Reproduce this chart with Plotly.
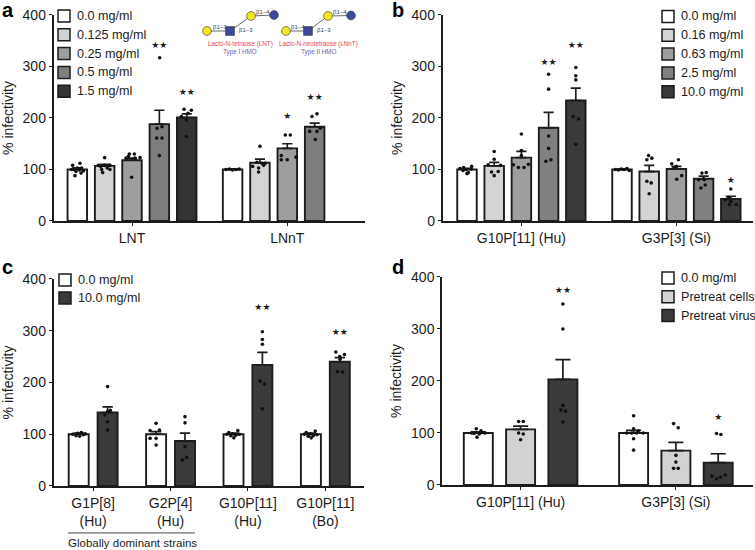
import plotly.graph_objects as go

FIG_W, FIG_H = 755, 570          # page-size of the figure
SX, SY = 1.0, 0.972              # picture pixels per figure pixel
FONT = "Liberation Sans"
INK = "#1c1c1c"

# ---------- panel a ----------
A_GROUPS = ["LNT", "LNnT"]
A_MEANS = [100, 107, 118, 188, 201, 100, 113, 141, 183]
A_TOPS = [103, 110, 122, 215, 208, 101, 120, 150, 190]
A_COLORS = ["#ffffff", "#d3d5d3", "#9c9ea0", "#7c7e7d", "#333333", "#ffffff", "#d3d5d3", "#9c9ea0", "#7c7e7d"]
A_PTS = [
    [112, 108, 103, 103, 100, 99, 96, 93, 88, 100, 97],
    [123, 108, 108, 108, 100, 103, 100, 106, 94],
    [130, 125, 122, 122, 85, 123, 130],
    [317, 183, 180, 161, 161, 127],
    [217, 215, 203, 209, 196, 164],
    [100, 101, 99, 100, 101],
    [145, 114, 112, 106, 103, 108, 95, 112],
    [167, 167, 127, 124, 119, 119],
    [208, 203, 180, 174, 174, 158],
]
A_JIT = [
    [8, -14, 0, 13, -10, 6, -4, 11, -7, -17, 18],
    [0, -19, 16, 0, -9, 8, 16, -12, -6],
    [7, -11, -18, 9, -1, 24, -8],
    [1, 8, -7, -8, 8, 0],
    [-8, 14, -16, 4, -1, -1],
    [-20, -10, 0, 10, 20],
    [0, -9, 16, -22, -4, 11, -4, 6],
    [-6, 9, -18, 26, 0, -18],
    [7, -8, 17, -15, 7, 2],
]
A_STAR_BARS = [3, 4, 7, 8]
A_STAR_Y = [340, 249, 203, 240]
A_STAR_TXT = ["★★", "★★", "★", "★★"]
A_LEGEND = ["0.0 mg/ml", "0.125 mg/ml", "0.25 mg/ml", "0.5 mg/ml", "1.5 mg/ml"]
A_LEG_COL = ["#ffffff", "#d3d5d3", "#9c9ea0", "#7c7e7d", "#333333"]

# ---------- panel b ----------
B_GROUPS = ["G10P[11] (Hu)", "G3P[3] (Si)"]
B_MEANS = [100, 107, 123, 181, 234, 100, 96, 101, 82, 43]
B_TOPS = [102, 114, 135, 211, 258, 101, 108, 106, 87, 48]
B_COLORS = ["#ffffff", "#d4d4d4", "#9e9e9e", "#808080", "#3a3a3a"] * 2
B_PTS = [
    [102, 98, 100, 94, 101, 92, 106, 104],
    [135, 120, 109, 108, 95, 96, 88],
    [169, 137, 109, 104, 104, 110, 127],
    [285, 256, 165, 141, 119, 116],
    [298, 282, 274, 203, 198, 149],
    [100, 99, 101, 100, 102, 98],
    [127, 122, 119, 77, 74, 53],
    [111, 119, 106, 88, 81, 104],
    [93, 94, 80, 70, 64, 82, 80],
    [62, 46, 41, 38, 32, 32],
]
B_JIT = [
    [-21, -12, -3, 4, 13, 0, 14, -10],
    [0, 0, -18, 19, -8, 12, 0],
    [0, 0, -24, -9, 8, 21, 0],
    [0, 0, 0, 0, 7, -8],
    [0, 0, 0, -8, 8, 0],
    [-20, -11, -2, 6, 15, 22],
    [-2, 8, -7, -7, 6, 0],
    [-14, 6, 0, 16, 1, -7],
    [-5, 8, 2, 5, -8, 0, -15],
    [0, -7, -17, 0, 16, -4],
]
B_STAR_BARS = [3, 4, 9]
B_STAR_Y = [308, 340, 78]
B_STAR_TXT = ["★★", "★★", "★"]
B_LEGEND = ["0.0 mg/ml", "0.16 mg/ml", "0.63 mg/ml", "2.5 mg/ml", "10.0 mg/ml"]
B_LEG_COL = ["#ffffff", "#d4d4d4", "#9e9e9e", "#808080", "#3a3a3a"]

# ---------- panel c ----------
C_GROUPS = ["G1P[8]<br>(Hu)", "G2P[4]<br>(Hu)", "G10P[11]<br>(Hu)", "G10P[11]<br>(Bo)"]
C_MEANS = [100, 142, 100, 87, 100, 234, 100, 240]
C_TOPS = [102, 153, 105, 102, 102, 258, 102, 248]
C_COLORS = ["#ffffff", "#3a3a3a"] * 4
C_PTS = [
    [100, 97, 102, 96, 103, 99, 101],
    [192, 144, 137, 124, 108, 146],
    [121, 107, 108, 92, 92, 79],
    [134, 122, 76, 55, 50],
    [100, 103, 97, 101, 93, 107, 100, 98],
    [298, 283, 274, 203, 197, 149],
    [100, 103, 96, 101, 93, 106, 99, 97],
    [259, 254, 250, 221, 220, 245],
]
C_JIT = [
    [-18, -8, -3, 3, 8, 14, 20],
    [0, 0, -8, 0, 0, 8],
    [0, -18, 10, 0, -18, 0],
    [0, 0, 0, 5, -8],
    [-20, -14, -8, -2, 1, 13, 18, 7],
    [0, 0, 0, -7, 6, 0],
    [-20, -14, -8, -2, 1, 13, 18, 7],
    [-12, 14, 0, -7, 8, 1],
]
C_STAR_BARS = [5, 7]
C_STAR_Y = [345, 297]
C_STAR_TXT = ["★★", "★★"]
C_LEGEND = ["0.0 mg/ml", "10.0 mg/ml"]
C_LEG_COL = ["#ffffff", "#3a3a3a"]

# ---------- panel d ----------
D_GROUPS = ["G10P[11] (Hu)", "G3P[3] (Si)"]
D_MEANS = [100, 107, 203, 100, 66, 43]
D_TOPS = [102, 113, 241, 105, 82, 60]
D_COLORS = ["#ffffff", "#d2d2d2", "#3a3a3a"] * 2
D_PTS = [
    [108, 104, 100, 100, 92, 98, 101, 99],
    [122, 122, 100, 98, 87],
    [348, 300, 153, 144, 142, 121],
    [133, 108, 100, 100, 100, 100, 89, 67, 104],
    [118, 110, 57, 44, 32, 32],
    [99, 97, 17, 12, 15, 19],
]
D_JIT = [
    [-6, 8, -20, 20, -4, 3, 14, -13],
    [-6, 8, -6, 8, 0],
    [0, 0, 0, -6, 8, 0],
    [0, 0, -6, 9, 29, -21, 0, 0, 14],
    [-7, 7, 0, 0, -7, 7],
    [-5, 8, -19, -5, 7, 21],
]
D_STAR_BARS = [2, 5]
D_STAR_Y = [374, 130]
D_STAR_TXT = ["★★", "★"]
D_LEGEND = ["0.0 mg/ml", "Pretreat cells", "Pretreat virus"]
D_LEG_COL = ["#ffffff", "#d2d2d2", "#3a3a3a"]

Y_TICKS = [0, 100, 200, 300, 400]

PANELS = [
    dict(name="a", box=(53.5, 365, 15, 221), step=27.35, width=19.5, first=77.3, gap=155.3, sizes=[5, 4], tick=2,
         groups=A_GROUPS, means=A_MEANS, tops=A_TOPS, colors=A_COLORS, pts=A_PTS, jit=A_JIT,
         sb=A_STAR_BARS, sy=A_STAR_Y, st=A_STAR_TXT, leg=A_LEGEND, lc=A_LEG_COL, lx=58, ly=16, ls=18.8, lw=12,
         letter=(0, 19)),
    dict(name="b", box=(442.5, 753, 15, 221), step=27.2, width=19.5, first=467, gap=155, sizes=[5, 5], tick=2,
         groups=B_GROUPS, means=B_MEANS, tops=B_TOPS, colors=B_COLORS, pts=B_PTS, jit=B_JIT,
         sb=B_STAR_BARS, sy=B_STAR_Y, st=B_STAR_TXT, leg=B_LEGEND, lc=B_LEG_COL, lx=662, ly=16.5, ls=18.8, lw=12,
         letter=(390, 19)),
    dict(name="c", box=(53.5, 364, 279, 486), step=28.9, width=20, first=78.7, gap=77.4, sizes=[2, 2, 2, 2], tick=0.5,
         groups=C_GROUPS, means=C_MEANS, tops=C_TOPS, colors=C_COLORS, pts=C_PTS, jit=C_JIT,
         sb=C_STAR_BARS, sy=C_STAR_Y, st=C_STAR_TXT, leg=C_LEGEND, lc=C_LEG_COL, lx=59, ly=280, ls=18, lw=12,
         letter=(0, 276)),
    dict(name="d", box=(442, 753, 277, 485), step=42.3, width=29, first=478.3, gap=155.3, sizes=[3, 3], tick=1,
         groups=D_GROUPS, means=D_MEANS, tops=D_TOPS, colors=D_COLORS, pts=D_PTS, jit=D_JIT,
         sb=D_STAR_BARS, sy=D_STAR_Y, st=D_STAR_TXT, leg=D_LEGEND, lc=D_LEG_COL, lx=662, ly=278, ls=18.8, lw=12,
         letter=(390, 276)),
]


def px(x):
    return x / SX / FIG_W


def py(y):
    return 1 - y / SY / FIG_H


fig = go.Figure()
shapes, annots = [], []
layout = {}

for k, p in enumerate(PANELS):
    suffix = "" if k == 0 else str(k + 1)
    x0, x1, ytop, ybot = p["box"]
    centres, ticks, start = [], [], p["first"] - x0
    for n in p["sizes"]:
        centres += [start + i * p["step"] for i in range(n)]
        ticks.append(start + p["tick"] * p["step"])
        start += p["gap"]
    fig.add_trace(go.Bar(
        x=centres, y=p["means"], width=p["width"],
        marker=dict(color=p["colors"], line=dict(color=INK, width=1.9)),
        error_y=dict(type="data", symmetric=False, array=[t - m for t, m in zip(p["tops"], p["means"])],
                     arrayminus=[0] * len(p["means"]), color=INK, thickness=1.7, width=p["width"] * 0.26),
        xaxis="x" + suffix, yaxis="y" + suffix, showlegend=False, hoverinfo="skip",
    ))
    xs, ys = [], []
    for c, vals, jit in zip(centres, p["pts"], p["jit"]):
        for v, j in zip(vals, jit):
            xs.append(c + j / 3)
            ys.append(v)
    fig.add_trace(go.Scatter(
        x=xs, y=ys, mode="markers", marker=dict(color="#111111", size=3.6),
        xaxis="x" + suffix, yaxis="y" + suffix, showlegend=False, hoverinfo="skip",
    ))
    fig.add_trace(go.Scatter(
        x=[centres[b] for b in p["sb"]], y=p["sy"], mode="text", text=p["st"],
        textfont=dict(family="DejaVu Sans", size=9, color=INK), textposition="middle center",
        cliponaxis=False, xaxis="x" + suffix, yaxis="y" + suffix, showlegend=False, hoverinfo="skip",
    ))
    axis_font = dict(family=FONT, size=14, color=INK)
    layout["xaxis" + suffix] = dict(
        domain=[px(x0), px(x1)], range=[0, x1 - x0], anchor="y" + suffix,
        tickmode="array", tickvals=ticks, ticktext=p["groups"], tickfont=axis_font,
        ticks="outside", ticklen=3, tickwidth=1.2, tickcolor=INK, tickangle=0,
        showline=True, linecolor=INK, linewidth=1.5, showgrid=False, zeroline=False,
    )
    layout["yaxis" + suffix] = dict(
        domain=[py(ybot), py(ytop)], range=[0, 400], anchor="x" + suffix,
        tickmode="array", tickvals=Y_TICKS, tickfont=axis_font,
        ticks="outside", ticklen=3, tickwidth=1.2, tickcolor=INK,
        showline=True, linecolor=INK, linewidth=1.5, showgrid=False, zeroline=False,
        title=dict(text="% infectivity", font=axis_font, standoff=6),
    )
    s = p["lw"]
    for i, (lab, col) in enumerate(zip(p["leg"], p["lc"])):
        cy = p["ly"] + i * p["ls"]
        shapes.append(dict(type="rect", xref="paper", yref="paper",
                           x0=px(p["lx"]), x1=px(p["lx"] + s), y0=py(cy - s / 2), y1=py(cy + s / 2),
                           fillcolor=col, line=dict(color=INK, width=1.5)))
        annots.append(dict(text=lab, xref="paper", yref="paper", x=px(p["lx"] + s + 5), y=py(cy),
                           xanchor="left", yanchor="middle", showarrow=False,
                           font=dict(family=FONT, size=12.6, color=INK)))
    annots.append(dict(text="<b>%s</b>" % p["name"], xref="paper", yref="paper",
                       x=px(p["letter"][0]), y=py(p["letter"][1] + 4), xanchor="left", yanchor="bottom",
                       showarrow=False, font=dict(family=FONT, size=20, color="#000000")))

shapes.append(dict(type="line", xref="paper", yref="paper", x0=px(68), x1=px(195), y0=py(533), y1=py(533),
                   line=dict(color="#333333", width=0.9)))
annots.append(dict(text="Globally dominant strains", xref="paper", yref="paper", x=px(132), y=py(543),
                   xanchor="center", yanchor="middle", showarrow=False,
                   font=dict(family=FONT, size=11.5, color=INK)))

YELLOW, BLUE = "#f4e51c", "#3c4a9c"


def link(a, b):
    shapes.append(dict(type="line", xref="paper", yref="paper", x0=px(a[0]), y0=py(a[1]), x1=px(b[0]), y1=py(b[1]),
                       line=dict(color="#444444", width=0.8)))


def node(c, col, square=False):
    r = 4.4
    shapes.append(dict(type="rect" if square else "circle", xref="paper", yref="paper",
                       x0=px(c[0] - r), x1=px(c[0] + r), y0=py(c[1] - r), y1=py(c[1] + r),
                       fillcolor=col, line=dict(color="#333333", width=0.6)))


def small(text, x, y, col="#444444", size=6):
    annots.append(dict(text=text, xref="paper", yref="paper", x=px(x), y=py(y), xanchor="center", yanchor="middle",
                       showarrow=False, font=dict(family=FONT, size=size, color=col)))


GLYCANS = [
    dict(y1=(207, 31), sq=(230, 31), y2=(251, 16), b=(274, 15), title="Lacto-N-tetraose (LNT)", sub="Type I HMO",
         l1="β1–3", l2="β1–3", l3="β1–4"),
    dict(y1=(286, 31), sq=(308, 31), y2=(328, 16), b=(351, 15.5), title="Lacto-N-neotetraose (LNnT)", sub="Type II HMO",
         l1="β1–4", l2="β1–3", l3="β1–4"),
]
for g in GLYCANS:
    link(g["y1"], g["sq"]); link(g["sq"], g["y2"]); link(g["y2"], g["b"])
    node(g["y1"], YELLOW); node(g["sq"], BLUE, True); node(g["y2"], YELLOW); node(g["b"], BLUE)
    small(g["l1"], (g["y1"][0] + g["sq"][0]) / 2 + 1, 27)
    small(g["l2"], g["sq"][0] + 16, 30.5)
    small(g["l3"], (g["y2"][0] + g["b"][0]) / 2, 12)
    cx = (g["y1"][0] + g["b"][0]) / 2 - 0.5
    small(g["title"], cx, 44.5, "#e8445a", 6.3)
    small(g["sub"], cx, 52, "#5566b5", 6.3)

fig.update_layout(
    width=FIG_W, height=FIG_H, autosize=False, margin=dict(l=0, r=0, t=0, b=0),
    paper_bgcolor="white", plot_bgcolor="white", showlegend=False, barmode="overlay",
    shapes=shapes, annotations=annots, font=dict(family=FONT, color=INK), **layout,
)
fig.write_html("out.html", config={"displayModeBar": False}, post_script="""
document.body.style.margin='0';document.documentElement.style.overflow='hidden';
var gd=document.querySelector('.plotly-graph-div');gd.style.position='fixed';gd.style.left='0';gd.style.top='-8px';
""")
